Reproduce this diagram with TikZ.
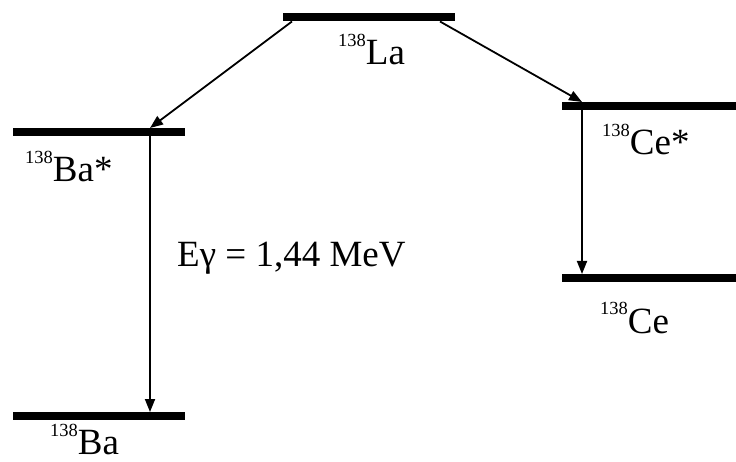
\documentclass[tikz,border=0pt]{standalone}
\usepackage{fontspec}
\setmainfont{Liberation Serif}
\usepackage{tikz}
\usetikzlibrary{arrows.meta}
\newcommand{\nuclide}[2]{\raisebox{18pt}{\fontsize{18.5}{18.5}\selectfont #1}#2}

\begin{document}
\begin{tikzpicture}[
    x=1pt, y=-1pt,
    level/.style = {line width=8pt},
    arrow/.style = {-{Triangle[length=13pt, width=10pt]}, line width=1.8pt},
    lbl/.style = {anchor=base west, inner sep=0pt, font=\fontsize{37}{40}\selectfont}
]
    \useasboundingbox (0,0) rectangle (736,462);

    % energy levels
    \coordinate (La-l) at (283,17.5);   \coordinate (La-r) at (455,17.5);
    \coordinate (BaX-l) at (13,132);    \coordinate (BaX-r) at (185,132);
    \coordinate (CeX-l) at (562,106);   \coordinate (CeX-r) at (736,106);
    \coordinate (Ce-l) at (562,278);    \coordinate (Ce-r) at (736,278);
    \coordinate (Ba-l) at (13,416);     \coordinate (Ba-r) at (185,416);

    \draw[level] (La-l) -- (La-r);
    \draw[level] (BaX-l) -- (BaX-r);
    \draw[level] (CeX-l) -- (CeX-r);
    \draw[level] (Ce-l) -- (Ce-r);
    \draw[level] (Ba-l) -- (Ba-r);

    % transition points
    \coordinate (La-a) at (292,21.5);   \coordinate (La-b) at (440,21.5);
    \coordinate (BaX-in) at (150,128);  \coordinate (BaX-out) at (150,132);
    \coordinate (CeX-in) at (582,102);  \coordinate (CeX-out) at (582,106);
    \coordinate (Ba-in) at (150,412);   \coordinate (Ce-in) at (582,274);

    \draw[arrow] (La-a) -- (BaX-in);
    \draw[arrow] (La-b) -- (CeX-in);
    \draw[arrow] (BaX-out) -- (Ba-in);
    \draw[arrow] (CeX-out) -- (Ce-in);

    % labels
    \node[lbl] (La) at (338,65) {\nuclide{138}{La}};
    \node[lbl] (BaX) at (25,182) {\nuclide{138}{Ba*}};
    \node[lbl] (CeX) at (602,155) {\nuclide{138}{Ce*}};
    \node[lbl] (Ce) at (600,333) {\nuclide{138}{Ce}};
    \node[lbl] (Ba) at (50,454) {\nuclide{138}{Ba}};
    \node[lbl] (E) at (177,267) {Eγ = 1,44 MeV};
\end{tikzpicture}
\end{document}
